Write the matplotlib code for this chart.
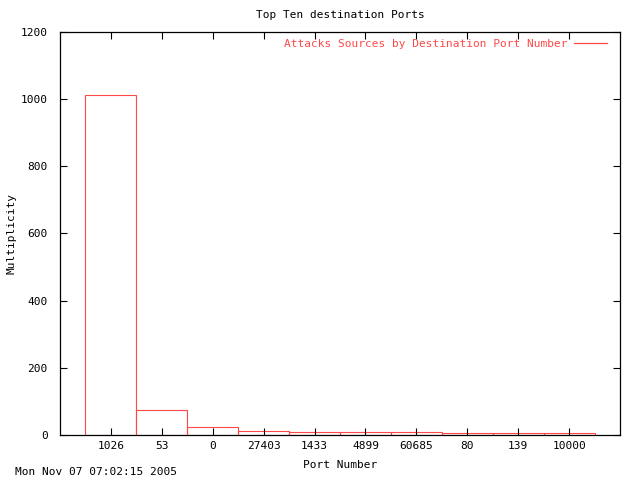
import matplotlib
matplotlib.use("Agg")
import matplotlib.pyplot as plt

# data
ports = ["1026", "53", "0", "27403", "1433", "4899", "60685", "80", "139", "10000"]
counts = [1012, 74, 24, 11, 8, 8, 8, 5, 5, 5]
y_ticks = [0, 200, 400, 600, 800, 1000, 1200]

red = "#ff4848"
plt.rcParams["font.family"] = "DejaVu Sans Mono"
plt.rcParams["font.size"] = 8

fig = plt.figure(figsize=(6.4, 4.8), dpi=100)
ax = fig.add_axes([60 / 640, 45 / 480, 560 / 640, 403 / 480])

pos = list(range(1, len(ports) + 1))
ax.bar(pos, counts, width=1.0, facecolor="none", edgecolor=red, linewidth=0.8)
ax.plot([], [], color=red, linewidth=0.9, label="Attacks Sources by Destination Port Number")

ax.set_xlim(0, 11)
ax.set_ylim(0, 1200)
ax.set_xticks(pos)
ax.set_xticklabels(ports)
ax.set_yticks(y_ticks)
ax.tick_params(direction="in", length=5, width=0.8, top=True, right=True)
ax.tick_params(axis="x", pad=4)
ax.tick_params(axis="y", pad=9)
for s in ax.spines.values():
    s.set_linewidth(0.9)

ax.set_title("Top Ten destination Ports", fontsize=8, pad=10)
ax.set_xlabel("Port Number", labelpad=7)
fig.text(12 / 640, 1 - 233 / 480, "Multiplicity", rotation=90, va="center", ha="center")

leg = ax.legend(loc="upper right", bbox_to_anchor=(0.989, 1.0), frameon=False,
                markerfirst=False, handlelength=3.0, handletextpad=0.6,
                borderaxespad=0.2)
for t in leg.get_texts():
    t.set_color(red)

fig.text(15 / 640, 1 - 472 / 480, "Mon Nov 07 07:02:15 2005", va="center", ha="left")

fig.savefig("out.png", dpi=100)
